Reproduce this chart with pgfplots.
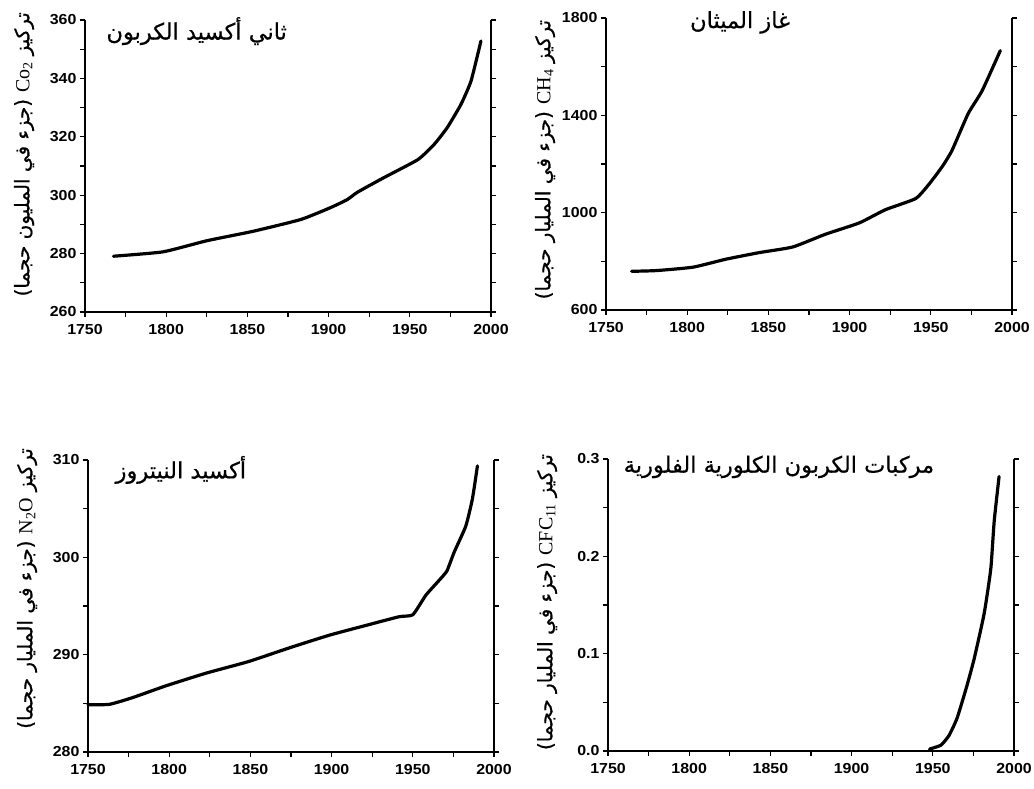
\documentclass[border=0pt]{standalone}
\usepackage{fontspec}
\setmainfont{Liberation Sans}
\newfontfamily\tickfont{Liberation Sans}[FakeStretch=1.1]
\newfontfamily\arabicfont[Script=Arabic, FakeBold=0.6]{DejaVu Sans}
\newfontfamily\seriffont{Liberation Serif}
\usepackage{pgfplots}
\pgfplotsset{compat=1.18}
\TeXXeTstate=1

\pgfplotsset{ylabel pos/.initial=0.52}
\tikzset{ttl/.style={font=\arabicfont\fontsize{22.5}{22.5}\selectfont}}
\pgfplotsset{
  panel/.style={
    scale only axis, width=406pt, height=292pt,
    axis x line*=bottom,
    axis line style={line width=1.5pt},
    xmin=1750, xmax=2000,
    xtick={1750,1800,...,2000}, minor xtick={1775,1825,...,1975},
    tick align=outside,
    major tick length=5pt, minor tick length=5pt,
    every tick/.style={black, line width=1.3pt},
    every minor tick/.style={black, line width=1.3pt},
    /pgf/number format/assume math mode=true,
    /pgf/number format/1000 sep={},
    ticklabel style={font=\tickfont\bfseries\fontsize{14.5}{14.5}\selectfont},
    xticklabel style={yshift=-4pt},
    every axis y label/.style={at={(axis description cs:-0.15,\pgfkeysvalueof{/pgfplots/ylabel pos})}, rotate=90, anchor=center,
      font=\fontsize{20}{20}\selectfont},
    clip=false,
  },
  curve/.style={black, line width=3.2pt, line join=round, line cap=round, mark=none, smooth, tension=0.3},
}

\begin{document}
\begin{tikzpicture}
\useasboundingbox (0pt,0pt) rectangle (1034pt,788pt);

% CO2
\begin{axis}[panel, at={(85pt,476pt)}, anchor=south west, ylabel pos=0.54,
  ymin=260, ymax=360, ytick={260,280,...,360}, minor ytick={270,290,...,350},
  ylabel={\arabicfont\beginR تركيز \beginL{\seriffont Co\textsubscript{2}}\endL{} (جزء في المليون حجما)\endR}]
\addplot[curve] coordinates {
(1767.5,279.1) (1798,280.6) (1825,284.4) (1854,287.7) (1883,291.7) (1901,295.7)
(1911.5,298.5) (1917.7,301) (1934,306) (1955,312.2) (1965,317.4) (1973,323.1)
(1981.5,331.1) (1987.7,339.1) (1993.8,352.8)};
\node[anchor=east, ttl] at (axis description cs:0.506,0.962) {\beginR ثاني أكسيد الكربون\endR};
\end{axis}

% CH4
\begin{axis}[panel, at={(606pt,478pt)}, anchor=south west, ylabel pos=0.515,
  ymin=600, ymax=1800, ytick={600,1000,1400,1800}, minor ytick={800,1200,1600},
  ylabel={\arabicfont\beginR تركيز \beginL{\seriffont CH\textsubscript{4}}\endL{} (جزء في المليار حجما)\endR}]
\addplot[curve] coordinates {
(1765.8,759) (1781,762) (1803.6,776) (1824,809) (1844.5,836) (1865,859) (1885,911)
(1906,958) (1922,1012) (1940.7,1058) (1948.9,1117) (1957,1189) (1963,1255)
(1973,1407) (1981.6,1501) (1992.8,1666)};
\node[anchor=center, ttl] at (axis description cs:0.33,0.985) {\beginR غاز الميثان\endR};
\end{axis}

% N2O
\begin{axis}[panel, at={(88pt,36pt)}, anchor=south west, ylabel pos=0.56,
  ymin=280, ymax=310, ytick={280,290,300,310}, minor ytick={285,295,305},
  ylabel={\arabicfont\beginR تركيز \beginL{\seriffont N\textsubscript{2}O}\endL{} (جزء في المليار حجما)\endR}]
\addplot[curve, smooth=false] coordinates {
(1750,284.85) (1763.3,284.9) (1777.7,285.6) (1798,286.8) (1822.7,288.1) (1849,289.3)
(1874,290.7) (1898.6,292.0) (1921,293.0) (1941.6,293.9) (1950,294.1) (1958,296.1)
(1966,297.6) (1971,298.6) (1975.4,300.5) (1982.6,303.2) (1986.7,306.0) (1989.8,309.4)};
\node[anchor=east, ttl] at (axis description cs:0.398,0.966) {\beginR أكسيد النيتروز\endR};
\end{axis}

% CFC11
\begin{axis}[panel, at={(608pt,37pt)}, anchor=south west, ylabel pos=0.51,
  ymin=0, ymax=0.3, ytick={0,0.1,0.2,0.3}, minor ytick={0.05,0.15,0.25},
  yticklabel style={/pgf/number format/.cd, fixed, fixed zerofill, precision=1},
  ylabel={\arabicfont\beginR تركيز \beginL{\seriffont CFC\textsubscript{11}}\endL{} (جزء في المليار حجما)\endR}]
\addplot[curve] coordinates {
(1948,0.002) (1955,0.006) (1960,0.016) (1965,0.034) (1971,0.067) (1975.5,0.095)
(1981.6,0.141) (1985.7,0.187) (1987.8,0.236) (1990.8,0.282)};
\node[anchor=east, ttl] at (axis description cs:0.812,0.973) {\beginR مركبات الكربون الكلورية الفلورية\endR};
\end{axis}
\end{tikzpicture}
\end{document}
